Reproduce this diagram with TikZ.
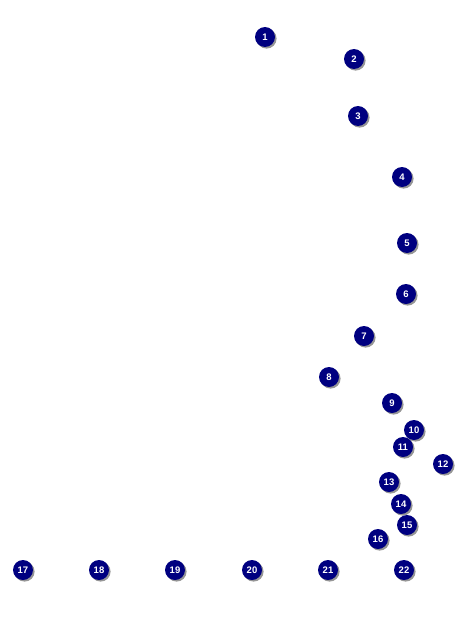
\documentclass[tikz,border=0pt]{standalone}
\usepackage{fontspec}
\setmainfont{Liberation Sans}
\usetikzlibrary{shadows}
\definecolor{MarkNavy}{RGB}{0,0,128}
\definecolor{MarkShade}{RGB}{150,150,150}

\begin{document}
\begin{tikzpicture}[x=1pt,y=-1pt, every node/.style={font=\bfseries\fontsize{9.5}{10}\selectfont, align=center}]
\tikzset{
  marker/.style={circle, fill=MarkNavy, text=white, inner sep=0pt, minimum size=20pt,
    drop shadow={shadow xshift=1.6pt, shadow yshift=-1.6pt, fill=MarkShade, opacity=1}}
}
  \useasboundingbox (0,0) rectangle (475,642);
  % callout markers, numbered top to bottom
  \foreach \num/\px/\py in {1/265/37, 2/354/59, 3/358/116, 4/402/177, 5/407/243,
      6/406/294, 7/364/336, 8/329/377, 9/392/403, 10/414/430, 11/403/447,
      12/443/464, 13/389/482, 14/401/504, 15/407/525, 16/378/539}
    \node[marker] (m\num) at (\px,\py) {\num};
  % bottom row
  \foreach \num/\px in {17/23, 18/99, 19/175, 20/252, 21/328, 22/404}
    \node[marker] (m\num) at (\px,570) {\num};
\end{tikzpicture}
\end{document}
